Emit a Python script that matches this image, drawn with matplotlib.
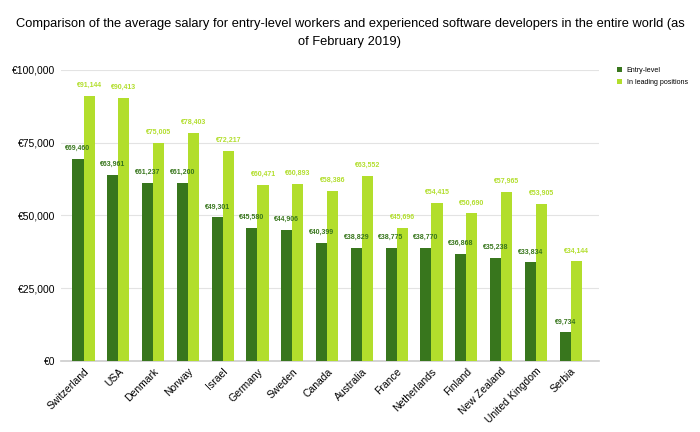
import matplotlib.pyplot as plt
import numpy as np

plt.rcParams['font.family'] = ['Liberation Sans', 'DejaVu Sans']

countries = ["Switzerland", "USA", "Denmark", "Norway", "Israel", "Germany", "Sweden",
             "Canada", "Australia", "France", "Netherlands", "Finland", "New Zealand",
             "United Kingdom", "Serbia"]
entry_level = [69460, 63961, 61237, 61200, 49301, 45580, 44906, 40399, 38829,
               38775, 38770, 36868, 35238, 33834, 9734]
leading = [91144, 90413, 75005, 78403, 72217, 60471, 60893, 58386, 63552,
           45696, 54415, 50690, 57965, 53905, 34144]
series_names = ["Entry-level", "In leading positions"]

dark = "#38761d"
light = "#b2de2c"

fig = plt.figure(figsize=(7, 4.32), dpi=100)
ax = fig.add_axes([0.087, 0.165, 0.768, 0.673])

x = np.arange(len(countries))
w = 0.32
b1 = ax.bar(x - w / 2, entry_level, w, color=dark, label=series_names[0], zorder=3)
b2 = ax.bar(x + w / 2, leading, w, color=light, label=series_names[1], zorder=3)

for bars, vals, c in [(b1, entry_level, dark), (b2, leading, light)]:
    for r, v in zip(bars, vals):
        ax.annotate("€{:,}".format(v), (r.get_x() + r.get_width() / 2, v),
                    xytext=(0, 5), textcoords="offset points", ha="center",
                    va="bottom", fontsize=5, fontweight="bold", color=c)

ax.set_ylim(0, 100000)
ax.set_xlim(-0.65, 14.8)
ax.set_yticks([0, 25000, 50000, 75000, 100000])
ax.set_yticklabels(["€{:,}".format(t) for t in ax.get_yticks().astype(int)], fontsize=7.5)
ax.set_xticks(x)
ax.set_xticklabels(countries, rotation=45, ha="right", rotation_mode="anchor", fontsize=7.5)
ax.tick_params(length=0, pad=4)
ax.grid(axis="y", color="#e3e3e3", linewidth=0.8, zorder=0)
for s in ["top", "right", "left"]:
    ax.spines[s].set_visible(False)
ax.spines["bottom"].set_color("#cccccc")
ax.spines["bottom"].set_linewidth(1.2)

fig.text(0.5, 0.958, "Comparison of the average salary for entry-level workers and experienced software developers in the entire world (as\nof February 2019)",
         ha="center", va="top", fontsize=9.3, linespacing=1.6)

fig.legend(handles=[b1, b2], loc="upper left", bbox_to_anchor=(0.872, 0.86),
           frameon=False, fontsize=5.1, handlelength=0.8, handleheight=0.8,
           handletextpad=0.6, labelspacing=0.7)

fig.savefig("out.png", dpi=100)
